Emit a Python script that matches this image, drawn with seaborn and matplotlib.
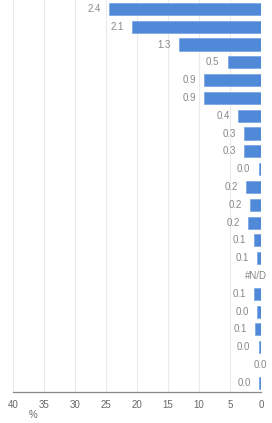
import numpy as np
import pandas as pd
import matplotlib
matplotlib.use("Agg")
import matplotlib.pyplot as plt
import seaborn as sns

categories = [f"C{i+1}" for i in range(22)]
values = [24.5, 20.8, 13.2, 5.4, 9.2, 9.2, 3.7, 2.8, 2.7, 0.4, 2.4, 1.7,
          2.1, 1.2, 0.7, np.nan, 1.1, 0.6, 0.9, 0.4, 0.0, 0.3]
labels = ["2.4", "2.1", "1.3", "0.5", "0.9", "0.9", "0.4", "0.3", "0.3", "0.0",
          "0.2", "0.2", "0.2", "0.1", "0.1", "#N/D", "0.1", "0.0", "0.1", "0.0",
          "0.0", "0.0"]
xticks = [40, 35, 30, 25, 20, 15, 10, 5, 0]

df = pd.DataFrame({"cat": categories, "val": values})

sns.set_style("white")
plt.rcParams["font.family"] = ["Liberation Sans", "DejaVu Sans"]

fig = plt.figure(figsize=(2.72, 4.23), dpi=100)
ax = fig.add_axes([13 / 272, 31.3 / 423, 248 / 272, 1 - 31.3 / 423])

sns.barplot(data=df, x="val", y="cat", color="#4f89d8", saturation=1,
            width=0.68, ax=ax, orient="h", edgecolor="#6a9be0", linewidth=0.4)

ax.set_xlim(40, 0)
ax.set_ylim(len(categories) - 0.5, -0.5)
ax.set_xticks(xticks)
ax.set_xticklabels([str(t) for t in xticks])
ax.xaxis.grid(True, color="#ebebeb", linewidth=0.8)
ax.set_axisbelow(True)
ax.set_yticks([])
ax.set_xlabel("")
ax.set_ylabel("")
for s in ["top", "right", "left"]:
    ax.spines[s].set_visible(False)
ax.spines["bottom"].set_color("#888888")
ax.spines["bottom"].set_linewidth(0.9)
ax.tick_params(axis="x", length=2.5, width=0.8, color="#888888",
               labelsize=7, labelcolor="#666666", pad=3.5)

for i, (v, lab) in enumerate(zip(values, labels)):
    if np.isnan(v) or v == 0:
        ax.annotate(lab, xy=(0, i), xytext=(4.5, 0), textcoords="offset points",
                    ha="right", va="center", fontsize=7, color="#888888",
                    annotation_clip=False)
    else:
        ax.annotate(lab, xy=(v, i), xytext=(-5.8, 0), textcoords="offset points",
                    ha="right", va="center", fontsize=7, color="#888888")

fig.text(33 / 272, 1 - 415 / 423, "%", ha="center", va="center",
         fontsize=7, color="#666666")

fig.savefig("out.png", dpi=100)
